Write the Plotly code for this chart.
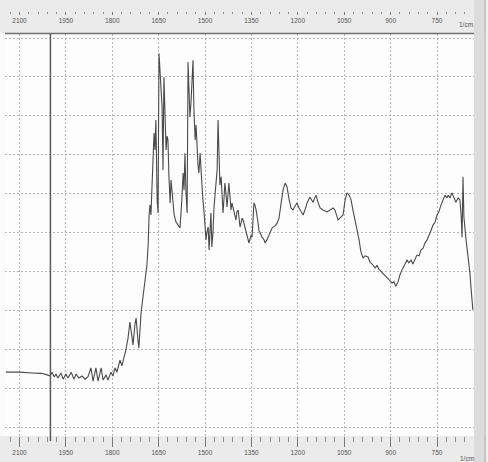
import plotly.graph_objects as go

# IR spectrum: wavenumber (1/cm) and detector signal (arbitrary units, 0-100)
wavenumber = [
    2144, 2100, 2060, 2030, 2010, 2001, 1995, 1988, 1982, 1976,
    1966, 1959, 1950, 1943, 1933, 1924, 1917, 1908, 1898, 1888,
    1879, 1869, 1862, 1853, 1846, 1836, 1830, 1820, 1814, 1804,
    1798, 1791, 1785, 1775, 1769, 1762, 1756, 1749, 1743, 1736,
    1733, 1727, 1723, 1717, 1714, 1707, 1701, 1694, 1688, 1684,
    1681, 1678, 1675, 1672, 1668, 1665, 1662, 1659, 1655, 1652,
    1649, 1646, 1642, 1639, 1636, 1633, 1629, 1626, 1623, 1620,
    1617, 1613, 1610, 1607, 1600, 1594, 1587, 1581, 1575, 1571,
    1568, 1565, 1562, 1558, 1555, 1552, 1549, 1545, 1542, 1539,
    1536, 1532, 1529, 1526, 1523, 1520, 1516, 1513, 1510, 1507,
    1503, 1500, 1497, 1494, 1490, 1487, 1484, 1481, 1478, 1474,
    1471, 1468, 1465, 1461, 1458, 1455, 1452, 1448, 1445, 1442,
    1439, 1436, 1432, 1429, 1426, 1423, 1419, 1416, 1413, 1410,
    1403, 1400, 1397, 1393, 1387, 1380, 1377, 1371, 1368, 1361,
    1358, 1351, 1348, 1345, 1342, 1339, 1335, 1329, 1326, 1319,
    1316, 1309, 1306, 1300, 1296, 1290, 1283, 1274, 1267, 1261,
    1254, 1248, 1241, 1235, 1228, 1222, 1216, 1209, 1203, 1196,
    1190, 1183, 1177, 1170, 1161, 1154, 1151, 1144, 1141, 1135,
    1128, 1119, 1106, 1096, 1086, 1080, 1070, 1064, 1054, 1047,
    1041, 1034, 1028, 1022, 1015, 1009, 1002, 996, 989, 983,
    973, 967, 960, 950, 944, 938, 928, 918, 912, 902,
    895, 889, 883, 876, 870, 863, 857, 850, 847, 841,
    834, 828, 821, 815, 808, 802, 795, 789, 782, 776,
    769, 763, 756, 750, 744, 737, 731, 724, 718, 714,
    708, 702, 695, 689, 682, 676, 672, 669, 666, 663,
    656, 653, 650, 646, 643, 640, 637, 634,
]
signal = [
    14.1, 14.1, 13.9, 13.8, 13.4, 13.1, 14.1, 12.9, 13.6, 12.6,
    13.9, 12.3, 13.6, 12.6, 14.1, 12.3, 13.6, 12.6, 13.1, 12.3,
    12.9, 15.2, 11.8, 15.2, 11.8, 15.2, 12.1, 13.4, 12.1, 14.1,
    13.1, 15.2, 14.1, 17.2, 15.7, 17.7, 19.8, 22.9, 27.0, 22.9,
    21.1, 26.2, 28.0, 22.4, 20.3, 29.3, 33.9, 37.8, 41.6, 46.8,
    54.5, 57.1, 54.5, 60.9, 67.4, 75.6, 71.2, 78.9, 58.4, 55.0,
    96.1, 91.0, 85.3, 82.3, 66.1, 90.0, 78.9, 71.2, 74.8, 73.8,
    64.8, 57.6, 63.5, 60.2, 54.5, 52.7, 51.7, 51.2, 58.4, 65.3,
    60.9, 70.4, 60.9, 55.0, 93.8, 86.6, 79.7, 84.1, 92.5, 94.3,
    81.5, 73.8, 77.6, 71.2, 67.4, 65.3, 70.4, 66.1, 61.7, 58.4,
    55.0, 51.9, 48.1, 50.1, 51.4, 45.5, 49.4, 55.0, 46.3, 50.6,
    56.6, 59.6, 62.7, 66.1, 78.9, 66.8, 62.2, 64.3, 59.6, 55.0,
    58.4, 62.7, 59.6, 56.6, 59.6, 62.7, 58.9, 55.8, 57.6, 56.6,
    54.5, 53.2, 55.3, 55.8, 51.4, 53.7, 53.2, 51.2, 49.9, 48.1,
    47.3, 49.4, 48.8, 53.2, 57.6, 57.1, 55.8, 52.7, 50.6, 49.4,
    48.8, 48.1, 47.3, 48.1, 48.8, 50.1, 51.2, 51.7, 52.4, 53.7,
    57.1, 60.9, 62.7, 61.7, 58.4, 56.3, 55.8, 56.8, 57.6, 56.3,
    55.3, 54.5, 55.8, 57.6, 59.1, 58.4, 57.8, 59.1, 59.6, 57.8,
    56.3, 55.8, 55.3, 55.8, 56.3, 55.8, 53.2, 53.7, 54.5, 58.4,
    60.2, 59.6, 58.4, 55.8, 53.2, 50.6, 48.1, 45.0, 43.4, 44.0,
    43.7, 42.4, 41.9, 40.9, 41.6, 40.6, 39.8, 39.1, 38.6, 37.8,
    37.0, 37.3, 36.2, 37.3, 39.1, 40.4, 41.4, 42.4, 42.9, 42.2,
    42.9, 41.9, 43.4, 44.2, 44.0, 45.5, 46.0, 47.3, 48.1, 49.1,
    50.6, 51.9, 52.7, 54.5, 55.3, 57.1, 58.4, 59.6, 58.9, 59.6,
    58.9, 60.2, 58.9, 57.8, 58.9, 58.4, 54.5, 48.8, 64.3, 54.0,
    48.1, 46.0, 45.5, 42.4, 39.1, 35.7, 32.6, 30.1,
]
assert len(wavenumber) == len(signal)

cursor_wavenumber = 2000
x_range = [2146.9, 630.4]
y_range = [-2.31, 101.03]
major_step = 150
minor_step = 30
unit_label = "1/cm"

W, H = 488, 462
ML, MR = 5, 14
PW = W - ML - MR


def px(x):
    """Horizontal pixel -> paper fraction."""
    return (x - ML) / PW


def py(y):
    """Vertical pixel (from top) -> paper fraction."""
    return (H - y) / H


tick_font = dict(family="Liberation Sans, Arial, sans-serif", size=6.5, color="#555555")
grid_color = "#b5b5b5"
grid_dash = "2px,2px"
band_color = "#ebebeb"

fig = go.Figure()
fig.add_trace(go.Scatter(
    x=wavenumber, y=signal, mode="lines",
    line=dict(color="#4a4a4a", width=1.1),
    showlegend=False, hoverinfo="skip",
))
# invisible trace so the top ruler axis is drawn
fig.add_trace(go.Scatter(
    x=[wavenumber[0]], y=[signal[0]], xaxis="x2", mode="markers",
    marker=dict(opacity=0), showlegend=False, hoverinfo="skip",
))

fig.update_layout(
    width=W, height=H,
    margin=dict(l=ML, r=MR, t=0, b=0),
    paper_bgcolor="#fbfbfb",
    plot_bgcolor="#fdfdfd",
    xaxis=dict(
        range=x_range, tick0=750, dtick=major_step,
        ticks="outside", ticklen=10, tickwidth=1, tickcolor="#7a7a7a",
        minor=dict(dtick=minor_step, tick0=750, ticks="outside", ticklen=5,
                   tickwidth=1, tickcolor="#8a8a8a", showgrid=False),
        showgrid=True, gridcolor=grid_color, griddash=grid_dash, gridwidth=1,
        showline=False, zeroline=False, tickfont=tick_font,
    ),
    xaxis2=dict(
        range=x_range, overlaying="x", anchor="free", position=py(11),
        side="bottom", tick0=750, dtick=major_step,
        ticks="outside", ticklen=3, tickwidth=1, tickcolor="#7a7a7a",
        minor=dict(dtick=minor_step, tick0=750, ticks="outside", ticklen=2,
                   tickwidth=1, tickcolor="#8a8a8a", showgrid=False),
        showgrid=False, showline=False, zeroline=False, tickfont=tick_font,
    ),
    yaxis=dict(
        domain=[py(436), py(34)], range=y_range,
        tick0=0, dtick=10, showticklabels=False, ticks="",
        showgrid=True, gridcolor=grid_color, griddash=grid_dash, gridwidth=1,
        showline=False, zeroline=False,
    ),
    shapes=[
        # top and bottom ruler bands
        dict(type="rect", xref="paper", yref="paper", x0=px(0), x1=px(W),
             y0=py(33), y1=1, fillcolor=band_color, line_width=0, layer="below"),
        dict(type="rect", xref="paper", yref="paper", x0=px(0), x1=px(W),
             y0=0, y1=py(436), fillcolor=band_color, line_width=0, layer="below"),
        # right-hand scroll strip
        dict(type="rect", xref="paper", yref="paper", x0=1, x1=px(484),
             y0=0, y1=1, fillcolor="#dcdcdc", line_width=0, layer="below"),
        dict(type="rect", xref="paper", yref="paper", x0=px(486), x1=px(W),
             y0=0, y1=1, fillcolor="#f0f0f0", line_width=0, layer="below"),
        dict(type="line", xref="paper", yref="paper", x0=px(485), x1=px(485),
             y0=0, y1=1, line=dict(color="#9c9c9c", width=1)),
        # frame line under the top ruler
        dict(type="line", xref="paper", yref="paper", x0=0, x1=1,
             y0=py(33.5), y1=py(33.5), line=dict(color="#6e6e6e", width=1.5)),
        # cursor marker
        dict(type="line", xref="x", yref="paper",
             x0=cursor_wavenumber, x1=cursor_wavenumber,
             y0=py(441), y1=py(33.5), line=dict(color="#5a5a5a", width=1.5)),
    ],
    annotations=[
        dict(text=unit_label, xref="paper", yref="paper", x=px(466), y=py(24),
             showarrow=False, font=tick_font, xanchor="center", yanchor="middle"),
        dict(text=unit_label, xref="paper", yref="paper", x=px(467), y=py(458),
             showarrow=False, font=tick_font, xanchor="center", yanchor="middle"),
    ],
)

fig.write_html("out.html")
